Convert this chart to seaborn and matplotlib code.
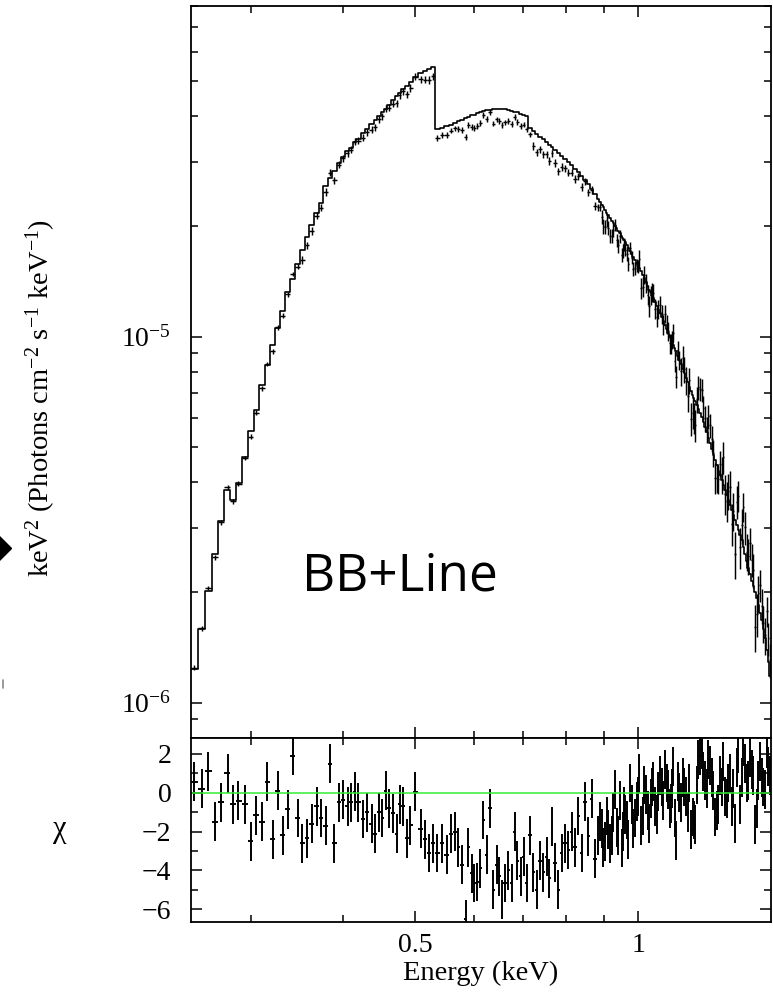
import numpy as np
import matplotlib
matplotlib.use("Agg")
import matplotlib.pyplot as plt
from matplotlib.lines import Line2D
from matplotlib.ticker import FixedLocator, NullFormatter, FixedFormatter, LogLocator, LogFormatterSciNotation
import seaborn as sns

# bin centres (keV)
energy_lo = [0.2517, 0.2578, 0.2628, 0.2686, 0.2735, 0.2793, 0.2839, 0.2884, 0.2948, 0.3002,
             0.3049, 0.3109, 0.3157, 0.3211, 0.3261, 0.3313, 0.3370, 0.3416, 0.3470, 0.3520,
             0.3575, 0.3624, 0.3681, 0.3731, 0.3789, 0.3836, 0.3887, 0.3948, 0.3998, 0.4052,
             0.4090, 0.4145, 0.4188, 0.4253, 0.4307, 0.4366, 0.4420, 0.4469, 0.4517, 0.4563,
             0.4611, 0.4669, 0.4727, 0.4767]
energy_hi = [0.4816, 0.4873, 0.4923, 0.5000, 0.5089, 0.5158, 0.5226, 0.5292, 0.5358, 0.5432,
             0.5517, 0.5586, 0.5662, 0.5720, 0.5780, 0.5858, 0.5900, 0.5962, 0.6005, 0.6067,
             0.6118, 0.6181, 0.6247, 0.6311, 0.6376, 0.6444, 0.6496, 0.6545, 0.6612, 0.6681,
             0.6752, 0.6821, 0.6870, 0.6943, 0.7015, 0.7073, 0.7146, 0.7220, 0.7297, 0.7372,
             0.7448, 0.7526, 0.7587, 0.7644, 0.7723, 0.7803, 0.7886, 0.7967, 0.8049, 0.8135,
             0.8219, 0.8303, 0.8391, 0.8478, 0.8565, 0.8656, 0.8745, 0.8835, 0.8929, 0.9021,
             0.9114, 0.9211, 0.9306, 0.9401, 0.9501, 0.9569, 0.9651, 0.9750, 0.9850, 0.9955,
             1.0036, 1.0142, 1.0247, 1.0352, 1.0430, 1.0538, 1.0647, 1.0760, 1.0871, 1.0982,
             1.1064, 1.1154, 1.1248, 1.1364, 1.1485, 1.1603, 1.1723, 1.1848, 1.1933, 1.2056,
             1.2184, 1.2310, 1.2436, 1.2568, 1.2698, 1.2829, 1.2965, 1.3099, 1.3234, 1.3375,
             1.3513, 1.3652, 1.3797, 1.3939, 1.4082, 1.4232, 1.4379, 1.4527, 1.4681, 1.4833,
             1.4986]
# the narrow bins above ~0.88 keV that sit between the ones above
energy_dense = [0.8882, 0.8975, 0.9067, 0.9162, 0.9258, 0.9353, 0.9451, 0.9535, 0.9610, 0.9700,
                0.9800, 0.9902, 0.9995, 1.0089, 1.0194, 1.0299, 1.0391, 1.0484, 1.0592, 1.0703,
                1.0815, 1.0926, 1.1023, 1.1109, 1.1201, 1.1306, 1.1424, 1.1544, 1.1663, 1.1785,
                1.1890, 1.1994, 1.2120, 1.2247, 1.2373, 1.2502, 1.2633, 1.2763, 1.2897, 1.3032,
                1.3166, 1.3304, 1.3444, 1.3582, 1.3724, 1.3868, 1.4010, 1.4157, 1.4305, 1.4453,
                1.4604, 1.4757, 1.4909, 1.5060]

# model, keV^2 (photons cm^-2 s^-1 keV^-1), in units of 1e-5
model_lo = [0.1236, 0.159, 0.2023, 0.2549, 0.3136, 0.3813, 0.358, 0.3984, 0.470, 0.5533,
            0.6306, 0.7387, 0.834, 0.946, 1.058, 1.178, 1.321, 1.440, 1.583, 1.719,
            1.874, 2.013, 2.175, 2.316, 2.581, 2.714, 2.836, 2.983, 3.097, 3.216,
            3.277, 3.404, 3.469, 3.603, 3.694, 3.812, 3.908, 4.009, 4.112, 4.190,
            4.296, 4.434, 4.547, 4.633]
model_hi = [4.752, 4.842, 4.965, 5.124, 5.254, 5.321, 5.388, 5.456, 3.682, 3.717,
            3.752, 3.788, 3.836, 3.873, 3.908, 3.958, 3.983, 4.021, 4.034, 4.073,
            4.099, 4.125, 4.150, 4.163, 4.176, 4.182, 4.182, 4.182, 4.176, 4.163,
            4.138, 4.120, 4.099, 4.060, 4.021, 3.996, 3.706, 3.648, 3.580, 3.520,
            3.458, 3.393, 3.340, 3.298, 3.237, 3.176, 3.117, 3.058, 3.001, 2.936,
            2.872, 2.818, 2.748, 2.680, 2.605, 2.532, 2.455, 2.371, 2.290, 2.220,
            2.144, 2.071, 2.007, 1.945, 1.884, 1.837, 1.780, 1.715, 1.651, 1.590,
            1.541, 1.474, 1.411, 1.342, 1.300, 1.244, 1.183, 1.132, 1.076, 1.024,
            0.989, 0.949, 0.911, 0.864, 0.816, 0.771, 0.729, 0.693, 0.667, 0.635,
            0.603, 0.567, 0.529, 0.493, 0.460, 0.430, 0.406, 0.381, 0.358, 0.336,
            0.316, 0.296, 0.278, 0.255, 0.233, 0.215, 0.201, 0.185, 0.168, 0.150,
            0.129]
model_dense = [2.330, 2.255, 2.182, 2.107, 2.039, 1.976, 1.914, 1.860, 1.808, 1.747,
               1.683, 1.620, 1.565, 1.507, 1.442, 1.376, 1.321, 1.272, 1.213, 1.157,
               1.104, 1.050, 1.006, 0.969, 0.930, 0.887, 0.840, 0.793, 0.750, 0.711,
               0.680, 0.651, 0.619, 0.585, 0.548, 0.511, 0.476, 0.445, 0.418, 0.393,
               0.369, 0.347, 0.326, 0.306, 0.287, 0.266, 0.244, 0.224, 0.208, 0.193,
               0.176, 0.159, 0.139, 0.118]

# residuals (chi)
chi_lo = [0.57, 0.2, 1.1, -1.5, -0.5, 1.0, -0.6, -0.4, -0.6, -2.5,
          -1.15, -1.5, 0.57, -2.4, 0.1, -2.2, -0.85, 1.9, -1.3, -2.6,
          -2.35, -1.6, -0.7, -1.3, -1.7, 1.5, -2.6, -0.5, -0.35, -0.7,
          -0.5, 0.05, -0.5, -1.35, -1.0, -1.6, -2.1, -1.0, -1.3, 0.1,
          -0.8, -1.05, -2.1, -0.6]
chi_hi = [-0.7, -2.35, -1.67, 0.05, -1.85, -2.4, -3.1, -2.6, -3.1, -2.6,
          -3.2, -2.1, -2.0, -2.8, -3.7, -6.5, -2.8, -4.15, -4.65, -4.6,
          -3.9, -1.4, -3.2, -0.8, -5.0, -3.7, -4.3, -5.5, -4.65, -4.0,
          -4.65, -2.0, -3.5, -4.3, -3.3, -4.65, -2.2, -4.1, -5.0, -3.5,
          -4.1, -3.3, -4.4, -1.75, -3.6, -5.0, -3.1, -2.6, -2.95, -2.0,
          -2.8, -1.2, -3.1, -0.45, -2.25, -0.3, -3.4, -2.2, -1.85, -2.5,
          -1.9, -2.2, 0.15, -2.2, -2.85, -0.7, -1.4, 0.5, -1.85, -0.45,
          1.0, -1.2, -0.1, -1.6, 0.3, -0.7, 0.05, 0.3, 1.2, 0.15,
          -0.55, 1.35, -2.45, 0.0, 0.8, -0.2, 0.5, -1.25, -1.65, 1.7,
          2.2, 0.65, 1.7, 0.8, -1.25, -0.6, 0.3, -0.2, 0.5, -0.7,
          -1.6, 2.0, 0.8, 1.5, 0.65, 1.2, -1.65, 0.65, 0.8, 0.15,
          1.35]
chi_dense = [-1.5, -2.8, -1.2, -2.6, -1.0, -1.8, -0.4, -2.0, -1.1, -2.4,
             -0.6, -1.3, -0.2, -1.7, 0.4, -0.9, -0.3, 0.6, -1.1, 0.9,
             -0.4, 0.5, -0.8, 0.2, -1.3, 0.6, -0.5, 0.3, -1.0, -1.9,
             -1.4, 0.4, 1.9, 1.1, 0.2, 1.4, 0.1, -0.9, 0.9, 1.6,
             -0.3, 1.0, 0.2, 1.3, -0.6, 2.4, 0.5, 1.8, 0.9, -0.8,
             1.6, 0.3, 2.3, 0.9]

# fractional 1-sigma error on the data, by energy band
err_breaks = [0.35, 0.535, 0.715, 0.89, 1.0, 1.14, 1.29]
err_levels = [0.015, 0.022, 0.017, 0.022, 0.04, 0.06, 0.085, 0.12]

energy = np.array(energy_lo + energy_hi + energy_dense)
order = np.argsort(energy)
energy = energy[order]
model = (np.array(model_lo + model_hi + model_dense) * 1e-5)[order]
chi = np.array(chi_lo + chi_hi + chi_dense)[order]
sig = np.array(err_levels)[np.digitize(energy, err_breaks)]

flux = model * (1 + chi * sig)
flux_err = model * sig

# bin edges half way (in log) between centres
mid = np.sqrt(energy[1:] * energy[:-1])
edges = np.concatenate([[energy[0] ** 2 / mid[0]], mid, [energy[-1] ** 2 / mid[-1]]])
xerr = np.vstack([energy - edges[:-1], edges[1:] - energy])

sns.set_style("ticks")
plt.rcParams["font.family"] = ["Liberation Serif", "DejaVu Serif"]
plt.rcParams["mathtext.fontset"] = "stix"
plt.rcParams["mathtext.default"] = "regular"
plt.rcParams["axes.linewidth"] = 1.3
for k in ("text.color", "axes.labelcolor", "xtick.color", "ytick.color", "axes.edgecolor"):
    plt.rcParams[k] = "black"

fig = plt.figure(figsize=(7.73, 9.94), dpi=100)
ax = fig.add_axes([0.2467, 0.2575, 0.7507, 0.7364])
axr = fig.add_axes([0.2467, 0.0724, 0.7507, 0.1851], sharex=ax)

# top panel: model step + data crosses
step_x = np.concatenate([[edges[0]], energy, [edges[-1]]])
step_y = np.concatenate([[model[0]], model, [model[-1]]])
sns.lineplot(x=step_x, y=step_y, ax=ax, color="black", lw=1.2,
             drawstyle="steps-mid", sort=False, estimator=None)
ax.errorbar(energy, flux, yerr=flux_err, xerr=xerr, fmt="none",
            ecolor="black", elinewidth=1.05, capsize=0)

ax.set_xscale("log")
ax.set_yscale("log")
ax.set_xlim(0.2489, 1.511)
ax.set_ylim(8.0e-7, 8.0e-5)

# residual panel
axr.errorbar(energy, chi, yerr=np.ones_like(chi), xerr=xerr, fmt="none",
             ecolor="black", elinewidth=1.4, capsize=0)
sns.lineplot(x=[0.2489, 1.511], y=[0, 0], ax=axr, color="#33ee33", lw=1.1)
axr.set_ylim(-6.66, 2.82)

for a in (ax, axr):
    a.tick_params(which="both", direction="in", top=True, right=True,
                  labelsize=20, width=1.1)
    a.tick_params(which="major", length=8)
    a.tick_params(which="minor", length=5)
    a.xaxis.set_major_locator(FixedLocator([0.5, 1.0]))
    a.xaxis.set_minor_locator(FixedLocator([0.3, 0.4, 0.6, 0.7, 0.8, 0.9]))
    a.xaxis.set_minor_formatter(NullFormatter())
    a.set_xlabel("")
    a.set_ylabel("")

ax.tick_params(axis="y", which="both", pad=14)
ax.yaxis.set_major_locator(LogLocator(base=10, numticks=10))
ax.yaxis.set_minor_locator(LogLocator(base=10, subs=np.arange(2, 10), numticks=20))
ax.yaxis.set_major_formatter(LogFormatterSciNotation())
ax.yaxis.set_minor_formatter(NullFormatter())
plt.setp(ax.get_xticklabels(), visible=False)

axr.xaxis.set_major_formatter(FixedFormatter(["0.5", "1"]))
axr.tick_params(axis="x", which="both", pad=8)
axr.tick_params(axis="y", which="both", pad=14)
axr.yaxis.set_major_locator(FixedLocator([-6, -4, -2, 0, 2]))
axr.yaxis.set_minor_locator(FixedLocator([-5, -3, -1, 1]))
axr.set_xlabel("Energy (keV)", fontsize=20.5, labelpad=2)

fig.text(0.053, 1 - 398 / 994, r"keV$^2$ (Photons cm$^{-2}$ s$^{-1}$ keV$^{-1}$)",
         rotation=90, ha="center", va="center", fontsize=20.5)
fig.text(60 / 773, 1 - 830 / 994, "χ", ha="center", va="center", fontsize=22)

ax.text(0.36, 0.22, "BB+Line", transform=ax.transAxes, ha="center", va="center",
        fontsize=37, color="black", family=["Open Sans", "DejaVu Sans"])

# edge of the neighbouring panel that was cropped into the picture
fig.add_artist(Line2D([-3 / 773], [1 - 548 / 994], marker="D", markersize=14,
                      color="black", lw=0))
fig.add_artist(Line2D([3.5 / 773, 3.5 / 773], [1 - 688 / 994, 1 - 680 / 994],
                      color="#888888", lw=1.2))

fig.savefig("out.png", dpi=100)
